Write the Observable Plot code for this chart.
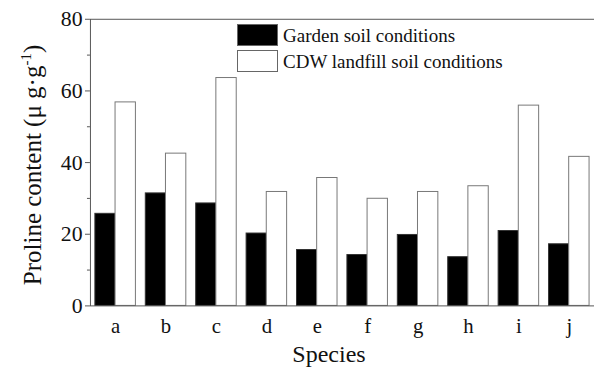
<!DOCTYPE html>
<html><head><meta charset="utf-8">
<script src="https://cdn.jsdelivr.net/npm/d3@7"></script>
<script src="https://cdn.jsdelivr.net/npm/@observablehq/plot@0.6"></script>
<style>
body{margin:0;overflow:hidden;background:#fff;}
#wrap{position:relative;width:594px;height:374px;overflow:hidden;font-family:"Liberation Serif",serif;color:#111;background:#fff;}
#wrap svg{position:absolute;left:0;top:0;}
#wrap svg text{font-family:"Liberation Serif",serif;}
.ov{position:absolute;white-space:nowrap;}
.ylab{left:32px;top:165px;font-size:25px;line-height:25px;transform:translate(-50%,-50%) rotate(-90deg);}
.ylab sup{font-size:15px;vertical-align:10px;line-height:0;}
.xlab{left:329px;top:342px;font-size:24px;line-height:24px;transform:translateX(-50%);}
.leg{left:237px;font-size:19px;line-height:19px;display:flex;align-items:center;}
.sw{width:41px;height:22px;border:1px solid #666;margin-right:5px;box-sizing:border-box;}
</style></head><body><div id="wrap"></div>
<script>
const species = ["a","b","c","d","e","f","g","h","i","j"];
const garden = [25.7,31.4,28.6,20.2,15.6,14.2,19.8,13.6,20.9,17.2];
const cdw = [56.8,42.5,63.6,31.8,35.7,29.9,31.8,33.4,55.9,41.6];
const seriesNames = ["Garden soil conditions","CDW landfill soil conditions"];
const seriesFills = ["#000","#fff"];
const majorTicks = [0,20,40,60,80];
const minorTicks = [10,30,50,70];
const yTitle = "Proline content (μ g·g<sup>-1</sup>)";
const xTitle = "Species";

const rows = species.map((s,i)=>({species:s, garden:garden[i], cdw:cdw[i]}));
const W = 601, ML = 91, MR = 0;
const step = (W-ML-MR)/species.length;
const half = step*0.8/2;
const font = "Liberation Serif";

const chart = Plot.plot({
  width: W, height: 374,
  marginLeft: ML, marginRight: MR, marginTop: 19, marginBottom: 65,
  x: {domain: species, paddingInner: 0.2, paddingOuter: 0.1, label: null},
  y: {domain: [0,80], label: null},
  style: {fontFamily: font, background: "white", color: "#111"},
  marks: [
    Plot.barY(rows, {x: "species", y: "garden", fill: seriesFills[0], stroke: "#333", insetLeft: 0, insetRight: half}),
    Plot.barY(rows, {x: "species", y: "cdw", fill: seriesFills[1], stroke: "#777", insetLeft: half, insetRight: 0}),
    Plot.frame({stroke: "#555"}),
    Plot.axisY({ticks: majorTicks, tickSize: 5, tickPadding: 3, fontSize: 22, fontFamily: font, label: null, stroke: "#555", tickFormat: d => d}),
    Plot.axisY({ticks: minorTicks, tickSize: 3, text: null, label: null, stroke: "#555"}),
    Plot.axisX({tickSize: 0, tickPadding: 13, fontSize: 21, fontFamily: font, label: null})
  ]
});
const wrap = document.getElementById("wrap");
wrap.appendChild(chart);

const yl = document.createElement("div"); yl.className = "ov ylab"; yl.innerHTML = yTitle; wrap.appendChild(yl);
const xl = document.createElement("div"); xl.className = "ov xlab"; xl.textContent = xTitle; wrap.appendChild(xl);
const legTops = [24, 50];
seriesNames.forEach((n,i)=>{
  const d = document.createElement("div"); d.className = "ov leg"; d.style.top = legTops[i] + "px";
  const sw = document.createElement("div"); sw.className = "sw"; sw.style.background = seriesFills[i];
  const t = document.createElement("span"); t.textContent = n;
  d.appendChild(sw); d.appendChild(t); wrap.appendChild(d);
});
</script></body></html>
